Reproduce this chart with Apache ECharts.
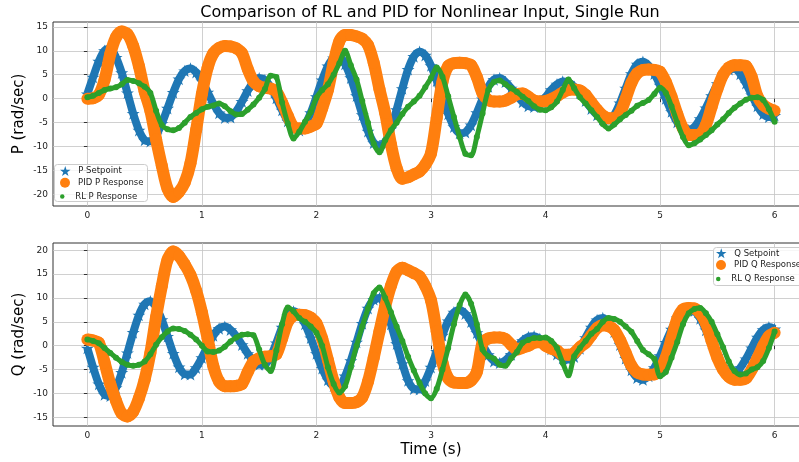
<!DOCTYPE html>
<html><head><meta charset="utf-8">
<script src="https://cdn.jsdelivr.net/npm/echarts@6/dist/echarts.min.js"></script>
<style>html,body{margin:0;padding:0;background:#fff;overflow:hidden}#c{width:812px;height:462px}</style>
</head><body><div id="c"></div><script>
const TIME_S = [
0,0.05,0.1,0.15,0.2,0.25,0.3,0.35,0.4,0.45,0.5,0.55,0.6,0.65,0.7,0.75,0.8,0.85,0.9,0.95,
1,1.05,1.1,1.15,1.2,1.25,1.3,1.35,1.4,1.45,1.5,1.55,1.6,1.65,1.7,1.75,1.8,1.85,1.9,1.95,
2,2.05,2.1,2.15,2.2,2.25,2.3,2.35,2.4,2.45,2.5,2.55,2.6,2.65,2.7,2.75,2.8,2.85,2.9,2.95,
3,3.05,3.1,3.15,3.2,3.25,3.3,3.35,3.4,3.45,3.5,3.55,3.6,3.65,3.7,3.75,3.8,3.85,3.9,3.95,
4,4.05,4.1,4.15,4.2,4.25,4.3,4.35,4.4,4.45,4.5,4.55,4.6,4.65,4.7,4.75,4.8,4.85,4.9,4.95,
5,5.05,5.1,5.15,5.2,5.25,5.3,5.35,5.4,5.45,5.5,5.55,5.6,5.65,5.7,5.75,5.8,5.85,5.9,5.95,
6];
const P_SETPOINT = [
1.0,4.5,7.8,10.0,10.4,8.6,5.4,1.2,-3.1,-6.6,-8.65,-8.9,-7.6,-5.2,-2.0,1.3,4.1,5.8,6.3,5.5,
3.7,1.35,-1.05,-3.0,-4.0,-3.9,-2.6,-0.6,1.65,3.45,4.3,3.9,2.4,0.1,-2.4,-4.7,-6.2,-6.6,-5.45,-2.95,
0.4,3.9,6.8,8.5,8.8,7.2,4.35,0.6,-3.35,-6.8,-9.2,-10.0,-9.0,-6.3,-2.3,2.1,6.1,8.8,9.8,9.05,
6.9,3.75,0.15,-3.2,-5.85,-7.2,-7.0,-5.5,-2.95,-0.05,2.5,4.0,4.3,3.5,2.2,0.7,-0.7,-1.55,-1.7,-0.9,
0.35,1.85,3.0,3.6,3.4,2.5,1.2,-0.45,-2.1,-3.4,-4.3,-4.5,-3.35,-0.9,2.2,5.2,7.2,7.7,6.9,5.2,
2.8,0.0,-2.7,-4.9,-6.25,-6.6,-5.9,-4.2,-1.95,0.6,3.1,5.0,6.1,6.3,5.15,3.2,0.75,-1.55,-3.2,-3.8,
-3.5];
const PID_P = [
0.0,0.1,0.8,3.9,9.3,12.8,14.0,13.5,11.0,6.8,1.5,-2.5,-8.5,-14.0,-18.8,-20.5,-19.5,-17.5,-13.5,-6.5,
1.0,6.5,9.5,10.6,11.0,10.9,10.5,9.5,6.2,3.6,2.6,2.3,2.1,1.5,-0.8,-3.6,-5.9,-6.2,-6.2,-5.8,
-5.2,-2.0,1.8,7.5,12.0,13.3,13.3,13.0,12.5,11.2,7.5,2.0,-3.0,-9.5,-14.5,-16.7,-16.4,-15.8,-15.2,-13.8,
-11.4,-4.0,3.5,6.8,7.4,7.5,7.4,7.0,4.5,1.1,-0.3,-0.6,-0.6,-0.4,0.2,0.9,1.1,0.4,-0.4,-0.6,
-0.5,-0.1,0.5,1.3,1.8,1.9,1.7,0.8,-0.8,-2.3,-3.5,-4.1,-4.1,-3.0,0.0,3.3,5.3,6.0,6.1,6.0,
5.6,3.5,0.4,-3.2,-6.2,-7.6,-7.6,-7.4,-5.5,-1.7,2.0,5.0,6.5,7.0,7.0,6.8,4.5,0.5,-1.3,-2.1,
-2.5];
const RL_P = [
0.3,0.6,1.2,1.8,2.1,2.4,3.0,3.9,3.7,3.2,2.5,1.2,-2.5,-5.5,-6.4,-6.6,-6.1,-5.0,-3.8,-3.0,
-2.2,-1.7,-1.4,-1.0,-1.6,-2.6,-3.3,-3.2,-2.3,-1.2,0.2,2.0,4.8,4.5,-0.8,-5.2,-8.3,-6.9,-4.8,-2.8,
0.2,1.8,3.0,5.0,7.4,10.0,7.0,4.0,-0.5,-5.0,-9.4,-11.2,-8.7,-6.6,-5.0,-3.2,-1.7,-0.6,0.6,2.4,
4.3,6.5,4.6,0.5,-3.8,-8.0,-11.5,-11.8,-8.0,-3.1,1.8,3.5,3.8,3.0,2.2,1.4,0.4,-0.5,-1.6,-2.3,
-2.4,-1.8,-0.6,1.8,4.0,2.2,0.3,-1.0,-2.4,-3.8,-5.3,-6.2,-5.4,-4.3,-3.4,-2.5,-1.5,-0.9,-0.3,1.0,
2.3,1.2,-1.6,-5.0,-8.0,-9.7,-9.3,-8.5,-7.6,-6.6,-5.4,-4.3,-3.0,-1.9,-1.0,-0.2,0.2,0.3,-0.3,-2.2,
-4.8];
const Q_SETPOINT = [
-0.5,-4.5,-8.0,-10.2,-10.5,-8.8,-5.6,-1.5,2.75,6.4,8.7,9.3,8.1,5.45,1.95,-1.6,-4.45,-5.95,-6.0,-4.6,
-2.5,-0.05,2.15,3.6,4.0,3.35,2.0,0.2,-1.65,-3.15,-3.95,-3.9,-2.25,0.6,3.85,6.25,7.2,6.5,4.55,1.65,
-1.65,-4.75,-7.15,-8.4,-8.4,-6.35,-3.15,0.75,4.65,7.85,9.7,10.0,8.1,4.55,0.4,-3.75,-7.3,-9.0,-9.1,-7.35,
-4.5,-1.2,2.2,5.2,7.0,7.5,6.7,5.0,2.7,0.25,-1.9,-3.25,-3.6,-3.05,-1.85,-0.35,1.05,1.85,2.0,1.45,
0.5,-0.7,-1.8,-2.6,-2.9,-2.3,-0.6,1.7,3.9,5.4,5.8,4.9,2.9,0.2,-2.65,-5.1,-6.7,-7.1,-6.35,-4.6,
-2.1,0.7,3.45,5.8,7.35,7.9,7.3,5.7,3.3,0.55,-2.1,-4.3,-5.5,-5.7,-4.6,-2.75,-0.45,1.8,3.35,3.9,
3.5];
const PID_Q = [
1.3,1.1,0.6,-3.5,-8.0,-11.5,-14.2,-14.8,-13.8,-11.0,-7.1,-1.5,6.0,12.5,18.0,19.7,18.8,17.0,14.8,11.5,
7.0,1.5,-4.3,-7.5,-8.5,-8.5,-8.4,-8.0,-5.5,-3.3,-2.6,-2.3,-2.2,-1.8,1.5,5.0,6.3,6.5,6.4,5.9,
4.7,1.5,-3.0,-7.5,-10.8,-12.0,-12.0,-11.8,-10.8,-7.5,-2.5,3.0,8.2,12.5,15.5,16.3,15.8,15.2,14.5,12.5,
9.5,3.0,-3.5,-6.8,-7.7,-7.8,-7.8,-7.3,-5.5,0.6,1.5,1.7,1.7,1.4,0.2,-0.8,-0.4,0.0,0.6,0.8,
0.0,-0.6,-1.0,-1.9,-1.9,-1.5,-0.3,0.6,2.2,3.7,4.3,4.1,3.3,1.2,-1.5,-4.2,-5.6,-6.0,-6.1,-6.0,
-5.0,-2.5,1.5,5.6,7.6,7.9,7.8,6.8,4.7,1.0,-2.5,-5.0,-6.5,-7.1,-7.1,-6.8,-5.0,-2.6,0.0,2.0,
2.7];
const RL_Q = [
1.3,1.0,0.5,-0.5,-1.5,-2.5,-3.4,-4.0,-4.2,-4.0,-3.3,-1.8,0.2,1.8,3.0,3.6,3.5,3.1,2.3,1.3,
0.0,-1.2,-1.3,-1.0,-0.2,0.9,1.7,2.3,2.4,2.2,-0.8,-4.0,-5.3,-1.0,4.5,8.0,7.2,5.8,5.0,4.0,
2.7,0.0,-4.5,-8.0,-9.8,-8.5,-4.5,0.0,4.0,7.8,11.0,12.2,10.0,7.0,4.0,1.0,-2.3,-5.2,-7.8,-10.0,
-11.0,-9.0,-5.0,-0.5,4.5,8.5,10.7,8.8,4.5,-0.8,-2.2,-2.7,-4.0,-4.2,-2.6,-1.3,0.6,1.2,1.6,1.6,
1.7,1.0,-0.5,-3.6,-6.2,-2.2,-0.5,1.0,2.5,3.5,5.0,5.8,5.6,5.0,4.0,2.9,1.0,-0.9,-1.8,-2.8,
-6.4,-5.5,-2.5,0.8,4.5,6.8,7.7,7.9,6.8,5.0,2.4,-0.3,-3.3,-5.3,-6.0,-5.8,-5.0,-4.5,-3.2,-0.5,
3.0];
const X_TICKS = [0,1,2,3,4,5,6];
const P_TICKS = [-20,-15,-10,-5,0,5,10,15];
const Q_TICKS = [-15,-10,-5,0,5,10,15,20];
const NAMES = ['P Setpoint','PID P Response','RL P Response','Q Setpoint','PID Q Response','RL Q Response'];

const BLUE='#1f77b4', ORANGE='#ff7f0e', GREEN='#2ca02c';
const STAR='path://M50,0L61.2,34.5L97.6,34.5L68.2,55.9L79.4,90.5L50,69.1L20.6,90.5L31.8,55.9L2.4,34.5L38.8,34.5Z';
const FONT='DejaVu Sans';

function pairs(v){ return TIME_S.map((t,i)=>[t, v[i]]); }
function ser(name, vals, gi, kind){
  const s = {name, type:'line', xAxisIndex:gi, yAxisIndex:gi, data:pairs(vals), smooth:0.3,
    showAllSymbol:true, animation:false, emphasis:{disabled:true}, silent:true, clip:false};
  if(kind===0){ Object.assign(s,{symbol:STAR, symbolKeepAspect:true, symbolSize:13, z:2,
      itemStyle:{color:BLUE}, lineStyle:{color:BLUE,width:8}}); }
  if(kind===1){ Object.assign(s,{symbol:'circle', symbolSize:12, z:3,
      itemStyle:{color:ORANGE}, lineStyle:{color:ORANGE,width:12}}); }
  if(kind===2){ Object.assign(s,{symbol:'circle', symbolSize:6, z:4,
      itemStyle:{color:GREEN}, lineStyle:{color:GREEN,width:5}}); }
  return s;
}
function xax(gi, showName){
  return {type:'value', gridIndex:gi, min:-0.3, max:6.3, splitNumber:6,
    axisLine:{show:false}, axisTick:{show:true, length:3.5, customValues:X_TICKS, lineStyle:{color:'#333'}},
    axisLabel:{customValues:X_TICKS, fontSize:9, color:'#222', fontFamily:FONT, margin:5},
    splitLine:{show:true, lineStyle:{color:'#c4c4c4', width:0.8}},
    name: showName ? 'Time (s)' : '', nameLocation:'middle', nameGap:17,
    nameTextStyle:{fontSize:15, color:'#000', fontFamily:FONT}};
}
function yax(gi, min, max, ticks, name){
  return {type:'value', gridIndex:gi, min, max, splitNumber:8,
    axisLine:{show:false}, axisTick:{show:true, length:3.5, customValues:ticks, lineStyle:{color:'#333'}},
    axisLabel:{customValues:ticks, fontSize:9, color:'#222', fontFamily:FONT, margin:5},
    splitLine:{show:true, lineStyle:{color:'#c4c4c4', width:0.8}},
    name, nameLocation:'middle', nameGap:26, nameMoveOverlap:false,
    nameTextStyle:{fontSize:15, color:'#000', fontFamily:FONT}};
}
function leg(name, icon, left, cy, w, h){
  return {data:[name], icon, left, top:cy-h/2, itemWidth:w, itemHeight:h, padding:0, z:20,
    selectedMode:false, textStyle:{fontSize:8.5, color:'#222', fontFamily:FONT, padding:[0,0,0,0]}};
}

const chart = echarts.init(document.getElementById('c'), null, {renderer:'canvas'});
chart.setOption({
  animation:false,
  backgroundColor:'#fff',
  grid:[
    {left:53, top:22, width:756, height:184, show:true, borderColor:'#333', borderWidth:1, backgroundColor:'transparent'},
    {left:53, top:243, width:756, height:183, show:true, borderColor:'#333', borderWidth:1, backgroundColor:'transparent'}
  ],
  xAxis:[xax(0,false), xax(1,true)],
  yAxis:[yax(0,-22.4,16.0,P_TICKS,'P (rad/sec)'), yax(1,-16.8,21.5,Q_TICKS,'Q (rad/sec)')],
  legend:[
    leg(NAMES[0], STAR, 60, 171, 16, 10),
    leg(NAMES[1], 'circle', 60, 182.7, 16, 10),
    leg(NAMES[2], 'circle', 60, 194.3, 16, 4.5),
    leg(NAMES[3], STAR, 716, 253.3, 16, 10),
    leg(NAMES[4], 'circle', 716, 265, 16, 10),
    leg(NAMES[5], 'circle', 716, 276.7, 16, 4.5)
  ],
  graphic:[
    {type:'rect', z:10, shape:{x:54.5, y:164.5, width:93, height:37, r:3}, style:{fill:'rgba(255,255,255,0.8)', stroke:'#cccccc', lineWidth:1}},
    {type:'rect', z:10, shape:{x:713.5, y:247.5, width:100, height:38, r:3}, style:{fill:'rgba(255,255,255,0.8)', stroke:'#cccccc', lineWidth:1}},
    {type:'text', z:10, x:430, y:13, style:{text:'Comparison of RL and PID for Nonlinear Input, Single Run', font:'16px "DejaVu Sans"', fill:'#000', align:'center', verticalAlign:'middle', textAlign:'center', textVerticalAlign:'middle'}}
  ],
  series:[
    ser(NAMES[0], P_SETPOINT, 0, 0), ser(NAMES[1], PID_P, 0, 1), ser(NAMES[2], RL_P, 0, 2),
    ser(NAMES[3], Q_SETPOINT, 1, 0), ser(NAMES[4], PID_Q, 1, 1), ser(NAMES[5], RL_Q, 1, 2)
  ]
});
</script></body></html>
